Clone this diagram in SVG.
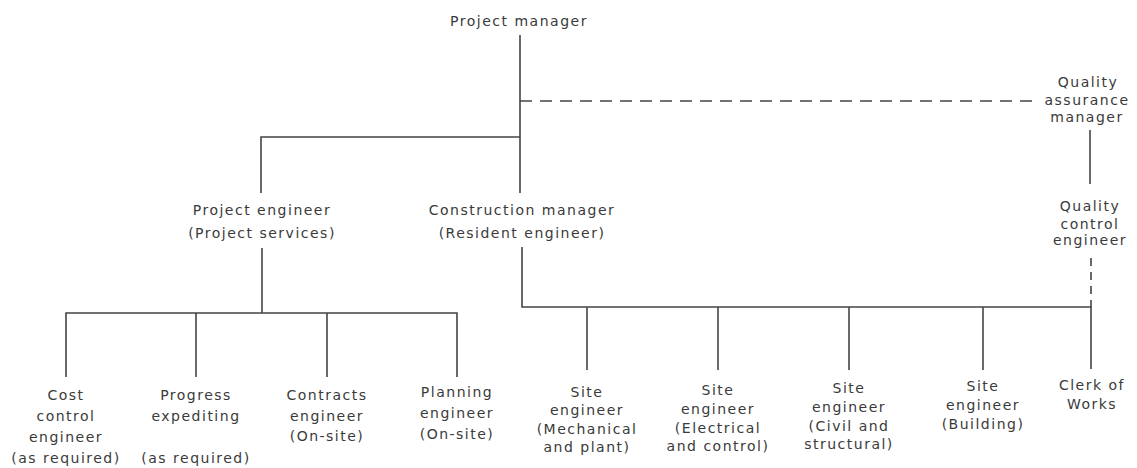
<svg xmlns="http://www.w3.org/2000/svg" width="1137" height="468" viewBox="0 0 1137 468">
<style>
text{font-family:"DejaVu Sans","Liberation Sans",sans-serif;font-size:14px;letter-spacing:1.5px;fill:#3a3a3a;text-anchor:middle}
.ln{stroke:#444;stroke-width:1.6;fill:none}
.dash{stroke:#444;stroke-width:1.6;fill:none;stroke-dasharray:12 8}
.vdash{stroke:#444;stroke-width:1.6;fill:none;stroke-dasharray:8 6}
</style>
<rect width="1137" height="468" fill="#ffffff"/>
<g id="connectors">
<path class="ln" d="M520,35 V193"/>
<path class="dash" d="M520,101 H1040"/>
<path class="ln" d="M520,137 H261 V193"/>
<path class="ln" d="M262,248 V313"/>
<path class="ln" d="M66,377 V313 H457 V377"/>
<path class="ln" d="M196,313 V377"/>
<path class="ln" d="M327,313 V377"/>
<path class="ln" d="M522,247 V307 H1091 V369"/>
<path class="ln" d="M587,307 V370"/>
<path class="ln" d="M718,307 V370"/>
<path class="ln" d="M849,307 V370"/>
<path class="ln" d="M983,307 V370"/>
<path class="ln" d="M1090,130 V184"/>
<path class="vdash" d="M1091,258 V307"/>
</g>
<g id="project-manager"><text x="519" y="26">Project manager</text></g>
<g id="qa-manager"><text x="1088" y="87">Quality</text><text x="1087" y="105">assurance</text><text x="1087" y="122">manager</text></g>
<g id="qc-engineer"><text x="1090" y="211">Quality</text><text x="1090" y="229">control</text><text x="1090" y="245">engineer</text></g>
<g id="project-engineer"><text x="262" y="215">Project engineer</text><text x="262" y="238">(Project services)</text></g>
<g id="construction-manager"><text x="522" y="215">Construction manager</text><text x="522" y="238">(Resident engineer)</text></g>
<g id="cost-control"><text x="66" y="400">Cost</text><text x="66" y="421">control</text><text x="66" y="442">engineer</text><text x="66" y="463">(as required)</text></g>
<g id="progress"><text x="196" y="400">Progress</text><text x="196" y="421">expediting</text><text x="196" y="463">(as required)</text></g>
<g id="contracts"><text x="327" y="400">Contracts</text><text x="327" y="421">engineer</text><text x="327" y="441">(On-site)</text></g>
<g id="planning"><text x="457" y="397">Planning</text><text x="457" y="418">engineer</text><text x="457" y="439">(On-site)</text></g>
<g id="site-mech"><text x="587" y="397">Site</text><text x="587" y="415">engineer</text><text x="587" y="434">(Mechanical</text><text x="587" y="452">and plant)</text></g>
<g id="site-elec"><text x="718" y="395">Site</text><text x="718" y="414">engineer</text><text x="718" y="433">(Electrical</text><text x="718" y="451">and control)</text></g>
<g id="site-civil"><text x="849" y="393">Site</text><text x="849" y="412">engineer</text><text x="849" y="431">(Civil and</text><text x="849" y="449">structural)</text></g>
<g id="site-building"><text x="983" y="391">Site</text><text x="983" y="410">engineer</text><text x="983" y="429">(Building)</text></g>
<g id="clerk"><text x="1092" y="390">Clerk of</text><text x="1092" y="409">Works</text></g>
</svg>
